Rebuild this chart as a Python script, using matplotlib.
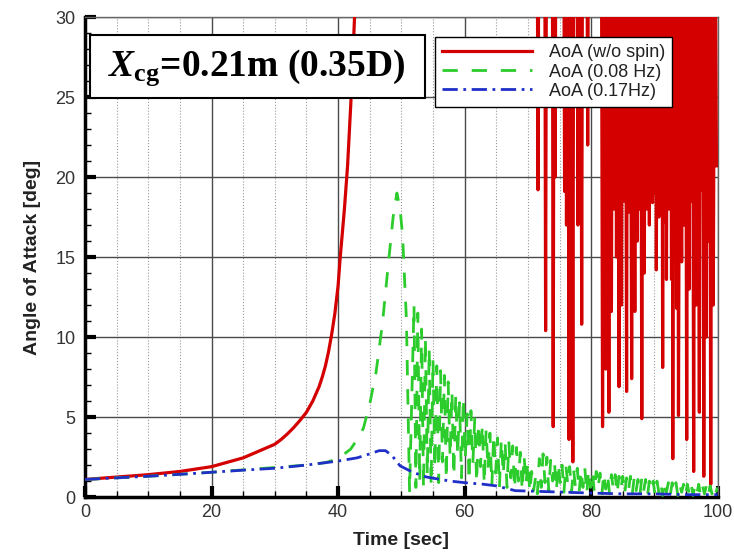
import numpy as np
import matplotlib
matplotlib.use('Agg')
import matplotlib.pyplot as plt
from matplotlib.patches import Rectangle
from matplotlib.ticker import MultipleLocator

plt.rcParams['font.family'] = ['Liberation Sans', 'DejaVu Sans']
plt.rcParams['mathtext.fontset'] = 'custom'
plt.rcParams['mathtext.it'] = 'Liberation Serif:italic:bold'
plt.rcParams['mathtext.bf'] = 'Liberation Serif:bold'
plt.rcParams['mathtext.rm'] = 'Liberation Serif:bold'

# --- AoA without spin: smooth divergence, then tumbling above 30 deg
red_t = [0, 5, 10, 15, 20, 25, 30, 31, 32, 33, 34, 35, 36, 37, 37.5, 38,
         38.5, 39, 39.5, 40, 40.3, 40.6, 41, 41.5, 42, 42.3, 42.6, 42.9]
red_v = [1.1, 1.25, 1.4, 1.6, 1.9, 2.45, 3.3, 3.6, 3.95, 4.35, 4.8, 5.3,
         6.0, 6.9, 7.5, 8.2, 9.1, 10.2, 11.5, 13.2, 14.8, 16.2, 18.0, 20.7,
         24.5, 27.0, 30.0, 34.0]

# tumbling part (zig-zag, 40 = off the top)
red_chaos_t = [43.5, 71.45, 71.6, 71.75, 72.65, 72.8, 72.95, 73.85, 74.0,
               74.15, 74.3, 74.45, 75.65, 75.8, 75.95, 76.1, 76.3, 76.5,
               76.7, 76.95, 77.1, 77.25, 77.75, 77.9, 78.05, 78.35, 78.5,
               78.65, 79.3, 79.45, 79.6, 81.6, 81.8, 82.05, 82.3, 82.55,
               82.8, 83.0, 83.2, 83.4, 83.6, 83.8, 84.0, 84.2, 84.4, 84.6,
               84.8, 85.0, 85.2, 85.4, 85.6, 85.75, 85.9, 86.15, 86.4, 86.65,
               86.9, 87.1, 87.3, 87.45, 87.6, 87.8, 88.0, 88.2, 88.4, 88.6,
               88.8, 89.0, 89.2, 89.45, 89.7, 89.85, 90.0, 90.15, 90.3, 90.5,
               90.7, 90.85, 91.0, 91.15, 91.3, 91.45, 91.6, 91.75, 91.9, 92.1,
               92.3, 92.5, 92.7, 92.8, 92.9, 93.05, 93.2, 93.35, 93.5, 93.65,
               93.8, 94.05, 94.3, 94.5, 94.7, 94.9, 95.1, 95.3, 95.5, 95.65,
               95.8, 96.0, 96.2, 96.4, 96.6, 96.85, 97.1, 97.25, 97.4, 97.6,
               97.8, 98.0, 98.2, 98.35, 98.5, 98.7, 98.9, 99.1, 99.3, 99.55,
               99.8]
red_chaos_v = [40, 40, 19.2, 40, 40, 10.4, 40, 40, 4.4,
               40, 20.0, 40, 40, 19.1, 40, 17.0, 40, 3.6,
               40, 40, 2.2, 40, 40, 17.0, 40, 40, 10.8,
               40, 40, 22.0, 40, 40, 4.4, 40, 8.0, 40,
               5.3, 40, 11.6, 40, 18.0, 40, 15.0, 40, 6.9, 40,
               12.0, 40, 18.5, 40, 6.6, 40, 17.8, 40, 7.4, 40,
               11.6, 40, 16.0, 40, 18.0, 40, 4.9, 40, 14.0, 40,
               18.0, 40, 17.0, 40, 18.4, 40, 19.0, 40, 14.2, 40,
               17.5, 40, 19.5, 40, 8.1, 40, 17.2, 40, 13.6, 40,
               18.0, 40, 13.6, 40, 2.4, 40, 16.0, 40, 11.8, 40,
               5.1, 40, 14.7, 40, 17.0, 40, 3.6, 40, 13.0, 40,
               18.5, 40, 1.6, 40, 12.0, 40, 5.3, 40, 19.2, 40,
               1.3, 40, 10.0, 40, 16.0, 40, 0.8, 40, 12.0, 40,
               20.7]

# --- AoA with 0.08 Hz spin
green_t = [0, 10, 20, 30, 35, 38, 40, 41, 42, 43, 44, 45, 46, 47, 48, 48.7,
           49.3, 49.8, 50.2, 50.8, 51.3]
green_v = [1.1, 1.3, 1.55, 1.85, 2.0, 2.15, 2.4, 2.7, 3.0, 3.6, 4.3, 5.8,
           7.8, 10.8, 14.8, 17.5, 19.0, 18.0, 16.3, 11.1, 0.3]
# nutation after the peak, one sample every 0.3 s from 52 s to 100 s
green_osc_v = [12.0, 0.6, 11.5, 1.0, 10.5, 0.5, 10.0, 1.4, 9.3, 0.7,
               8.6, 1.8, 8.2, 0.9, 7.9, 2.2, 7.6, 1.1, 7.2, 2.5,
               6.6, 1.3, 6.4, 2.6, 5.9, 1.2, 6.2, 2.4, 5.2, 1.0,
               5.4, 2.1, 4.9, 0.9, 4.6, 1.9, 4.5, 0.8, 4.2, 1.7,
               4.0, 0.7, 3.9, 1.5, 3.7, 0.6, 3.6, 1.4, 3.4, 0.6,
               3.4, 1.2, 3.2, 0.5, 3.1, 1.0, 2.8, 0.4, 2.6, 0.8,
               2.2, 0.3, 1.6, 0.4, 1.2, 0.2, 2.4, 0.6, 2.7, 0.9,
               2.5, 0.4, 2.3, 1.0, 2.2, 0.4, 2.1, 0.9, 2.0, 0.3,
               2.0, 0.8, 1.9, 0.3, 1.8, 0.7, 1.8, 0.3, 1.7, 0.6,
               1.8, 0.2, 1.7, 0.6, 1.6, 0.3, 1.6, 0.6, 1.5, 0.2,
               1.5, 0.5, 1.4, 0.2, 1.4, 0.5, 1.4, 0.2, 1.3, 0.5,
               1.3, 0.2, 1.2, 0.4, 1.3, 0.2, 1.2, 0.4, 1.1, 0.1,
               1.2, 0.4, 1.1, 0.1, 1.0, 0.4, 1.0, 0.1, 1.0, 0.3,
               0.9, 0.1, 1.0, 0.3, 0.9, 0.1, 0.9, 0.3, 0.9, 0.1,
               0.8, 0.3, 0.8, 0.1, 0.8, 0.2, 0.8, 0.1, 0.7, 0.2,
               0.8, 0.1, 0.7, 0.2, 0.7, 0.1, 0.7, 0.2, 0.7, 0.3,
               0.6]
green_osc_t = np.linspace(52.0, 100.0, len(green_osc_v))

# --- AoA with 0.17 Hz spin
blue_t = [0, 5, 10, 15, 20, 25, 30, 35, 40, 43, 45, 46.5, 47.5, 48.5, 49.8,
          51.8, 54, 57.7, 60, 63, 65, 68, 72, 76, 80, 85, 90, 95, 100]
blue_v = [1.1, 1.2, 1.3, 1.42, 1.55, 1.68, 1.8, 2.0, 2.25, 2.45, 2.7, 2.9,
          2.9, 2.6, 1.95, 1.55, 1.25, 1.0, 0.9, 0.8, 0.7, 0.4, 0.35, 0.3,
          0.25, 0.2, 0.2, 0.15, 0.15]

fig = plt.figure(figsize=(7.34, 5.56), dpi=100)
ax = fig.add_axes([0.1158, 0.106, 0.862, 0.8634])

red_c = '#d40000'
green_c = '#2ccc2c'
blue_c = '#1f2fc8'

ax.plot(red_t + red_chaos_t, red_v + red_chaos_v, color=red_c, lw=2.3,
        label='AoA (w/o spin)', zorder=3)
ax.plot(np.concatenate([green_t, green_osc_t]),
        np.concatenate([green_v, green_osc_v]), color=green_c, lw=2.0,
        dashes=(5.5, 5), label='AoA (0.08 Hz)', zorder=4)
ax.plot(blue_t, blue_v, color=blue_c, lw=2.0, dashes=(5.5, 2, 1, 2),
        label='AoA (0.17Hz)', zorder=5)

ax.set_xlim(0, 100)
ax.set_ylim(0, 30)
ax.xaxis.set_major_locator(MultipleLocator(20))
ax.xaxis.set_minor_locator(MultipleLocator(5))
ax.yaxis.set_major_locator(MultipleLocator(5))
ax.yaxis.set_minor_locator(MultipleLocator(1))

ax.grid(which='major', color='#4a4a4a', lw=1.0, zorder=0)
ax.grid(which='minor', axis='x', color='#9a9a9a', lw=0.8, ls=':', zorder=0)

ax.tick_params(which='major', direction='in', length=8, width=3,
               labelsize=13, labelcolor='#333333', pad=5)
ax.tick_params(which='minor', direction='in', length=4, width=1)
ax.tick_params(axis='y', which='major', pad=7)

for s in ['left', 'bottom']:
    ax.spines[s].set_linewidth(2.5)
    ax.spines[s].set_color('black')
for s in ['top', 'right']:
    ax.spines[s].set_linewidth(1.0)
    ax.spines[s].set_color('#666666')

ax.set_xlabel('Time [sec]', fontsize=14, fontweight='bold', color='#222222',
              labelpad=8)
ax.set_ylabel('Angle of Attack [deg]', fontsize=14, fontweight='bold',
              color='#222222', labelpad=10)

leg = ax.legend(loc='upper left', bbox_to_anchor=(0.553, 0.958),
                borderaxespad=0, fontsize=13, handlelength=5.0,
                handletextpad=0.9, labelspacing=0.12, fancybox=False,
                framealpha=1, edgecolor='black', borderpad=0.4)
leg.get_frame().set_linewidth(1.0)
for t in leg.get_texts():
    t.set_color('#222222')

# label box for the cg position
ax.add_patch(Rectangle((0.008, 0.831), 0.529, 0.1315, transform=ax.transAxes,
                       facecolor='white', edgecolor='black', lw=1.5,
                       zorder=6))
ax.text(0.272, 0.895, r'$X_{\mathbf{cg}}$=0.21m (0.35D)',
        transform=ax.transAxes, ha='center', va='center',
        fontsize=27, fontweight='bold', family='Liberation Serif', zorder=7)

fig.savefig('out.png', dpi=100)
